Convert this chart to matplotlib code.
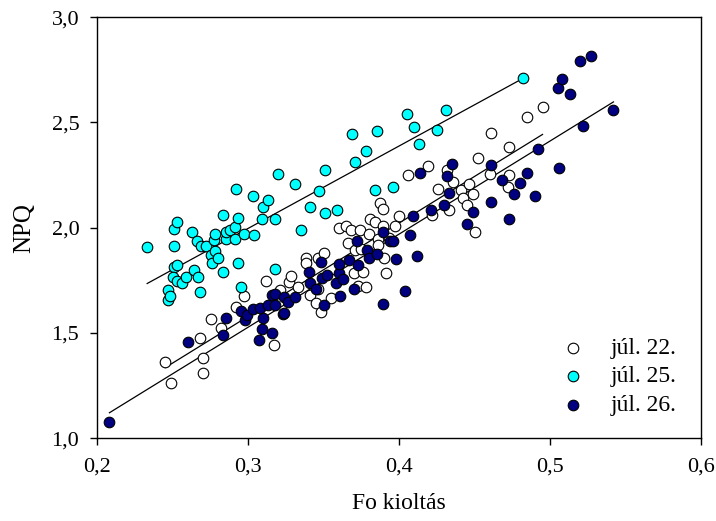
import matplotlib
matplotlib.use('Agg')
import matplotlib.pyplot as plt
import numpy as np
from matplotlib.ticker import FuncFormatter

# júl. 22. (white)
x22 = [0.245, 0.249, 0.268, 0.270, 0.270, 0.275, 0.282, 0.292, 0.297, 0.312,
       0.317, 0.321, 0.327, 0.328, 0.333, 0.338, 0.338, 0.341, 0.345, 0.346,
       0.346, 0.348, 0.350, 0.355, 0.360, 0.365, 0.366, 0.368, 0.371, 0.370,
       0.373, 0.374, 0.375, 0.376, 0.378, 0.380, 0.381, 0.384, 0.386, 0.386,
       0.387, 0.389, 0.389, 0.390, 0.391, 0.393, 0.397, 0.400, 0.406, 0.419,
       0.422, 0.426, 0.432, 0.433, 0.436, 0.441, 0.442, 0.445, 0.446, 0.449,
       0.450, 0.452, 0.460, 0.461, 0.472, 0.473, 0.473, 0.485, 0.495]
y22 = [1.364, 1.261, 1.477, 1.379, 1.308, 1.564, 1.522, 1.625, 1.677, 1.746,
       1.443, 1.704, 1.743, 1.770, 1.719, 1.858, 1.830, 1.680, 1.640, 1.854,
       1.711, 1.601, 1.881, 1.664, 1.999, 2.007, 1.925, 1.991, 1.893, 1.783,
       1.723, 1.988, 1.901, 1.791, 1.719, 1.969, 2.039, 2.028, 1.945, 1.917,
       2.119, 2.091, 2.007, 1.854, 1.786, 1.953, 2.009, 2.055, 2.249, 2.292,
       2.059, 2.186, 2.276, 2.086, 2.217, 2.181, 2.142, 2.107, 2.206, 2.162,
       1.980, 2.330, 2.257, 2.448, 2.191, 2.249, 2.383, 2.524, 2.572]

# júl. 25. (cyan)
x25 = [0.233, 0.247, 0.247, 0.248, 0.251, 0.251, 0.253, 0.251, 0.253, 0.250,
       0.253, 0.256, 0.259, 0.263, 0.264, 0.266, 0.267, 0.268, 0.269, 0.272,
       0.275, 0.276, 0.277, 0.278, 0.278, 0.280, 0.283, 0.283, 0.285, 0.285,
       0.288, 0.291, 0.291, 0.292, 0.293, 0.293, 0.295, 0.297, 0.304, 0.303,
       0.309, 0.310, 0.313, 0.318, 0.318, 0.320, 0.331, 0.335, 0.341, 0.347,
       0.351, 0.351, 0.359, 0.369, 0.371, 0.378, 0.384, 0.385, 0.396, 0.405,
       0.410, 0.413, 0.425, 0.431, 0.482]
y25 = [1.906, 1.704, 1.656, 1.675, 1.912, 1.996, 2.028, 1.814, 1.822, 1.767,
       1.746, 1.738, 1.767, 1.979, 1.798, 1.936, 1.764, 1.694, 1.912, 1.915,
       1.870, 1.830, 1.941, 1.972, 1.890, 1.854, 2.059, 1.791, 1.944, 1.980,
       1.988, 2.004, 1.944, 2.186, 2.048, 1.830, 1.719, 1.968, 1.964, 2.149,
       2.043, 2.099, 2.130, 2.043, 1.806, 2.254, 2.209, 1.988, 2.096, 2.175,
       2.276, 2.070, 2.086, 2.443, 2.312, 2.363, 2.178, 2.459, 2.194, 2.542,
       2.477, 2.396, 2.466, 2.560, 2.711]

# júl. 26. (navy)
x26 = [0.208, 0.260, 0.283, 0.285, 0.295, 0.298, 0.299, 0.303, 0.307, 0.309,
       0.310, 0.308, 0.313, 0.316, 0.316, 0.318, 0.318, 0.323, 0.324, 0.324,
       0.326, 0.331, 0.340, 0.341, 0.345, 0.348, 0.349, 0.350, 0.352, 0.358,
       0.360, 0.360, 0.361, 0.363, 0.367, 0.370, 0.372, 0.373, 0.379, 0.380,
       0.385, 0.389, 0.389, 0.394, 0.396, 0.398, 0.404, 0.407, 0.409, 0.412,
       0.414, 0.421, 0.430, 0.432, 0.433, 0.435, 0.445, 0.449, 0.461, 0.461,
       0.468, 0.473, 0.476, 0.480, 0.485, 0.490, 0.492, 0.505, 0.506, 0.508,
       0.513, 0.520, 0.522, 0.527, 0.542]
y26 = [1.076, 1.459, 1.490, 1.569, 1.604, 1.561, 1.585, 1.612, 1.466, 1.517,
       1.569, 1.617, 1.632, 1.501, 1.680, 1.685, 1.632, 1.588, 1.593, 1.672,
       1.648, 1.672, 1.791, 1.735, 1.711, 1.838, 1.759, 1.632, 1.775, 1.735,
       1.783, 1.827, 1.677, 1.754, 1.846, 1.711, 1.938, 1.822, 1.896, 1.854,
       1.877, 1.980, 1.637, 1.938, 1.938, 1.849, 1.700, 1.964, 2.055, 1.865,
       2.262, 2.086, 2.107, 2.244, 2.165, 2.304, 2.017, 2.075, 2.300, 2.123,
       2.225, 2.043, 2.159, 2.213, 2.262, 2.149, 2.372, 2.665, 2.285, 2.708,
       2.633, 2.790, 2.483, 2.818, 2.557]

labels = ['júl. 22.', 'júl. 25.', 'júl. 26.']
colors = ['white', '#00FFFF', '#000080']

plt.rcParams['font.family'] = ['Liberation Serif', 'DejaVu Serif']

fig = plt.figure(figsize=(7.16, 5.21), dpi=100)
ax = fig.add_axes([0.136, 0.159, 0.843, 0.808])

series = [(x22, y22), (x25, y25), (x26, y26)]
for (xs, ys), c, lab in zip(series, colors, labels):
    xs = np.array(xs)
    ys = np.array(ys)
    ax.scatter(xs, ys, s=58, c=c, edgecolors='black', linewidths=0.8,
               label=lab, zorder=3)
    k, b = np.polyfit(xs, ys, 1)
    xl = np.array([xs.min(), xs.max()])
    ax.plot(xl, k * xl + b, color='black', lw=0.9, zorder=2)

ax.set_xlim(0.2, 0.6)
ax.set_ylim(1.0, 3.0)
ax.set_xticks([0.2, 0.3, 0.4, 0.5, 0.6])
ax.set_yticks([1.0, 1.5, 2.0, 2.5, 3.0])
comma = FuncFormatter(lambda v, p: ('%.1f' % v).replace('.', ','))
ax.xaxis.set_major_formatter(comma)
ax.yaxis.set_major_formatter(comma)
ax.tick_params(direction='out', length=5, width=1, labelsize=16)
ax.tick_params(axis='x', pad=9)
ax.tick_params(axis='y', pad=8)
ax.tick_params(top=False, right=False)
for sp in ax.spines.values():
    sp.set_linewidth(1)

ax.set_xlabel('Fo kioltás', fontsize=17, labelpad=12)
ax.set_ylabel('NPQ', fontsize=18, labelpad=12)

ax.legend(loc='lower right', frameon=False, fontsize=17, handletextpad=0.6,
          labelspacing=0.3, borderaxespad=0.0, bbox_to_anchor=(0.975, 0.03))

fig.savefig('out.png', dpi=100)
